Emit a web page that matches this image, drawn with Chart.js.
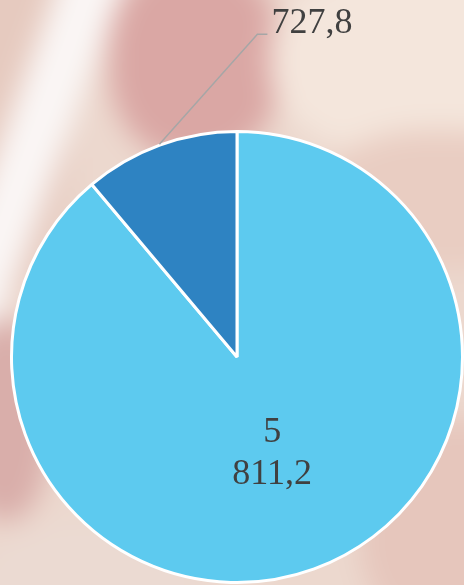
<!DOCTYPE html>
<html>
<head>
<meta charset="utf-8">
<script src="https://cdn.jsdelivr.net/npm/chart.js@4"></script>
<style>
  html, body { margin:0; padding:0; }
  body { width:464px; height:585px; overflow:hidden; position:relative; background:#ecd6cc; }
  #bg { position:absolute; left:-60px; top:-60px; width:584px; height:705px; filter:blur(14px); }
  #bg div { position:absolute; }
  #wrap { position:absolute; left:0; top:0; width:464px; height:585px; }
</style>
</head>
<body>
<div id="bg">
  <div style="left:0;top:0;width:584px;height:705px;background:#ecd8ce"></div>
  <div style="left:0;top:0;width:130px;height:360px;background:#e6cabf;border-radius:40%"></div>
  <div style="left:170px;top:20px;width:170px;height:200px;background:#daa7a4;border-radius:45%"></div>
  <div style="left:330px;top:20px;width:320px;height:200px;background:#f4e6dc;border-radius:45%"></div>
  <div style="left:380px;top:190px;width:240px;height:140px;background:#e9cdc2;border-radius:45%"></div>
  <div style="left:151px;top:-40px;width:60px;height:520px;background:#faf6f5;transform:rotate(20deg);transform-origin:50% 0"></div>
  <div style="left:20px;top:380px;width:90px;height:200px;background:#d9aeaa;border-radius:45%"></div>
  <div style="left:40px;top:580px;width:220px;height:150px;background:#ebdad2;border-radius:45%"></div>
  <div style="left:420px;top:480px;width:200px;height:220px;background:#e6c6bc;border-radius:45%"></div>
</div>
<div id="wrap"><canvas id="c" width="464" height="585"></canvas></div>
<script>
// ---- data ----
const categories = ['Категория 1', 'Категория 2'];
const values = [5811.2, 727.8];
const sliceColors = ['#5dcaef', '#2e83c2'];

function fmt(v) {
  const [i, d] = v.toFixed(1).split('.');
  const grouped = i.replace(/\B(?=(\d{3})+(?!\d))/g, ' ');
  return grouped + ',' + d;
}

const labelPlugin = {
  id: 'valueLabels',
  afterDatasetsDraw(chart) {
    const ctx = chart.ctx;
    const meta = chart.getDatasetMeta(0);
    ctx.save();
    ctx.font = '36px "Liberation Serif", "Times New Roman", serif';
    ctx.fillStyle = '#404040';
    meta.data.forEach((arc, i) => {
      const p = arc.getProps(['x','y','startAngle','endAngle','outerRadius'], true);
      const mid = (p.startAngle + p.endAngle) / 2;
      const text = fmt(values[i]);
      if (i === 0) {
        const r = p.outerRadius * 0.455;
        const cx = p.x + Math.cos(mid) * r;
        const cy = p.y + Math.sin(mid) * r;
        const lines = text.split(' ');
        ctx.textAlign = 'center';
        ctx.textBaseline = 'middle';
        const lh = 42;
        lines.forEach((ln, k) => {
          ctx.fillText(ln, cx, cy + (k - (lines.length - 1) / 2) * lh);
        });
      } else {
        const sx = p.x + Math.cos(mid) * (p.outerRadius + 1);
        const sy = p.y + Math.sin(mid) * (p.outerRadius + 1);
        const ex = sx + 98, ey = sy - 110;
        ctx.strokeStyle = '#a6a6a6';
        ctx.lineWidth = 1.5;
        ctx.beginPath();
        ctx.moveTo(sx, sy);
        ctx.lineTo(ex, ey);
        ctx.lineTo(ex + 10, ey);
        ctx.stroke();
        ctx.textAlign = 'left';
        ctx.textBaseline = 'middle';
        ctx.fillText(text, ex + 14, ey - 11);
      }
    });
    ctx.restore();
  }
};

new Chart(document.getElementById('c'), {
  type: 'pie',
  data: {
    labels: categories,
    datasets: [{
      data: values,
      backgroundColor: sliceColors,
      borderColor: '#ffffff',
      borderWidth: 3
    }]
  },
  options: {
    responsive: false,
    animation: false,
    layout: { padding: { left: 10, right: 0, top: 130, bottom: 1 } },
    plugins: { legend: { display: false }, tooltip: { enabled: false } }
  },
  plugins: [labelPlugin]
});
</script>
</body>
</html>
